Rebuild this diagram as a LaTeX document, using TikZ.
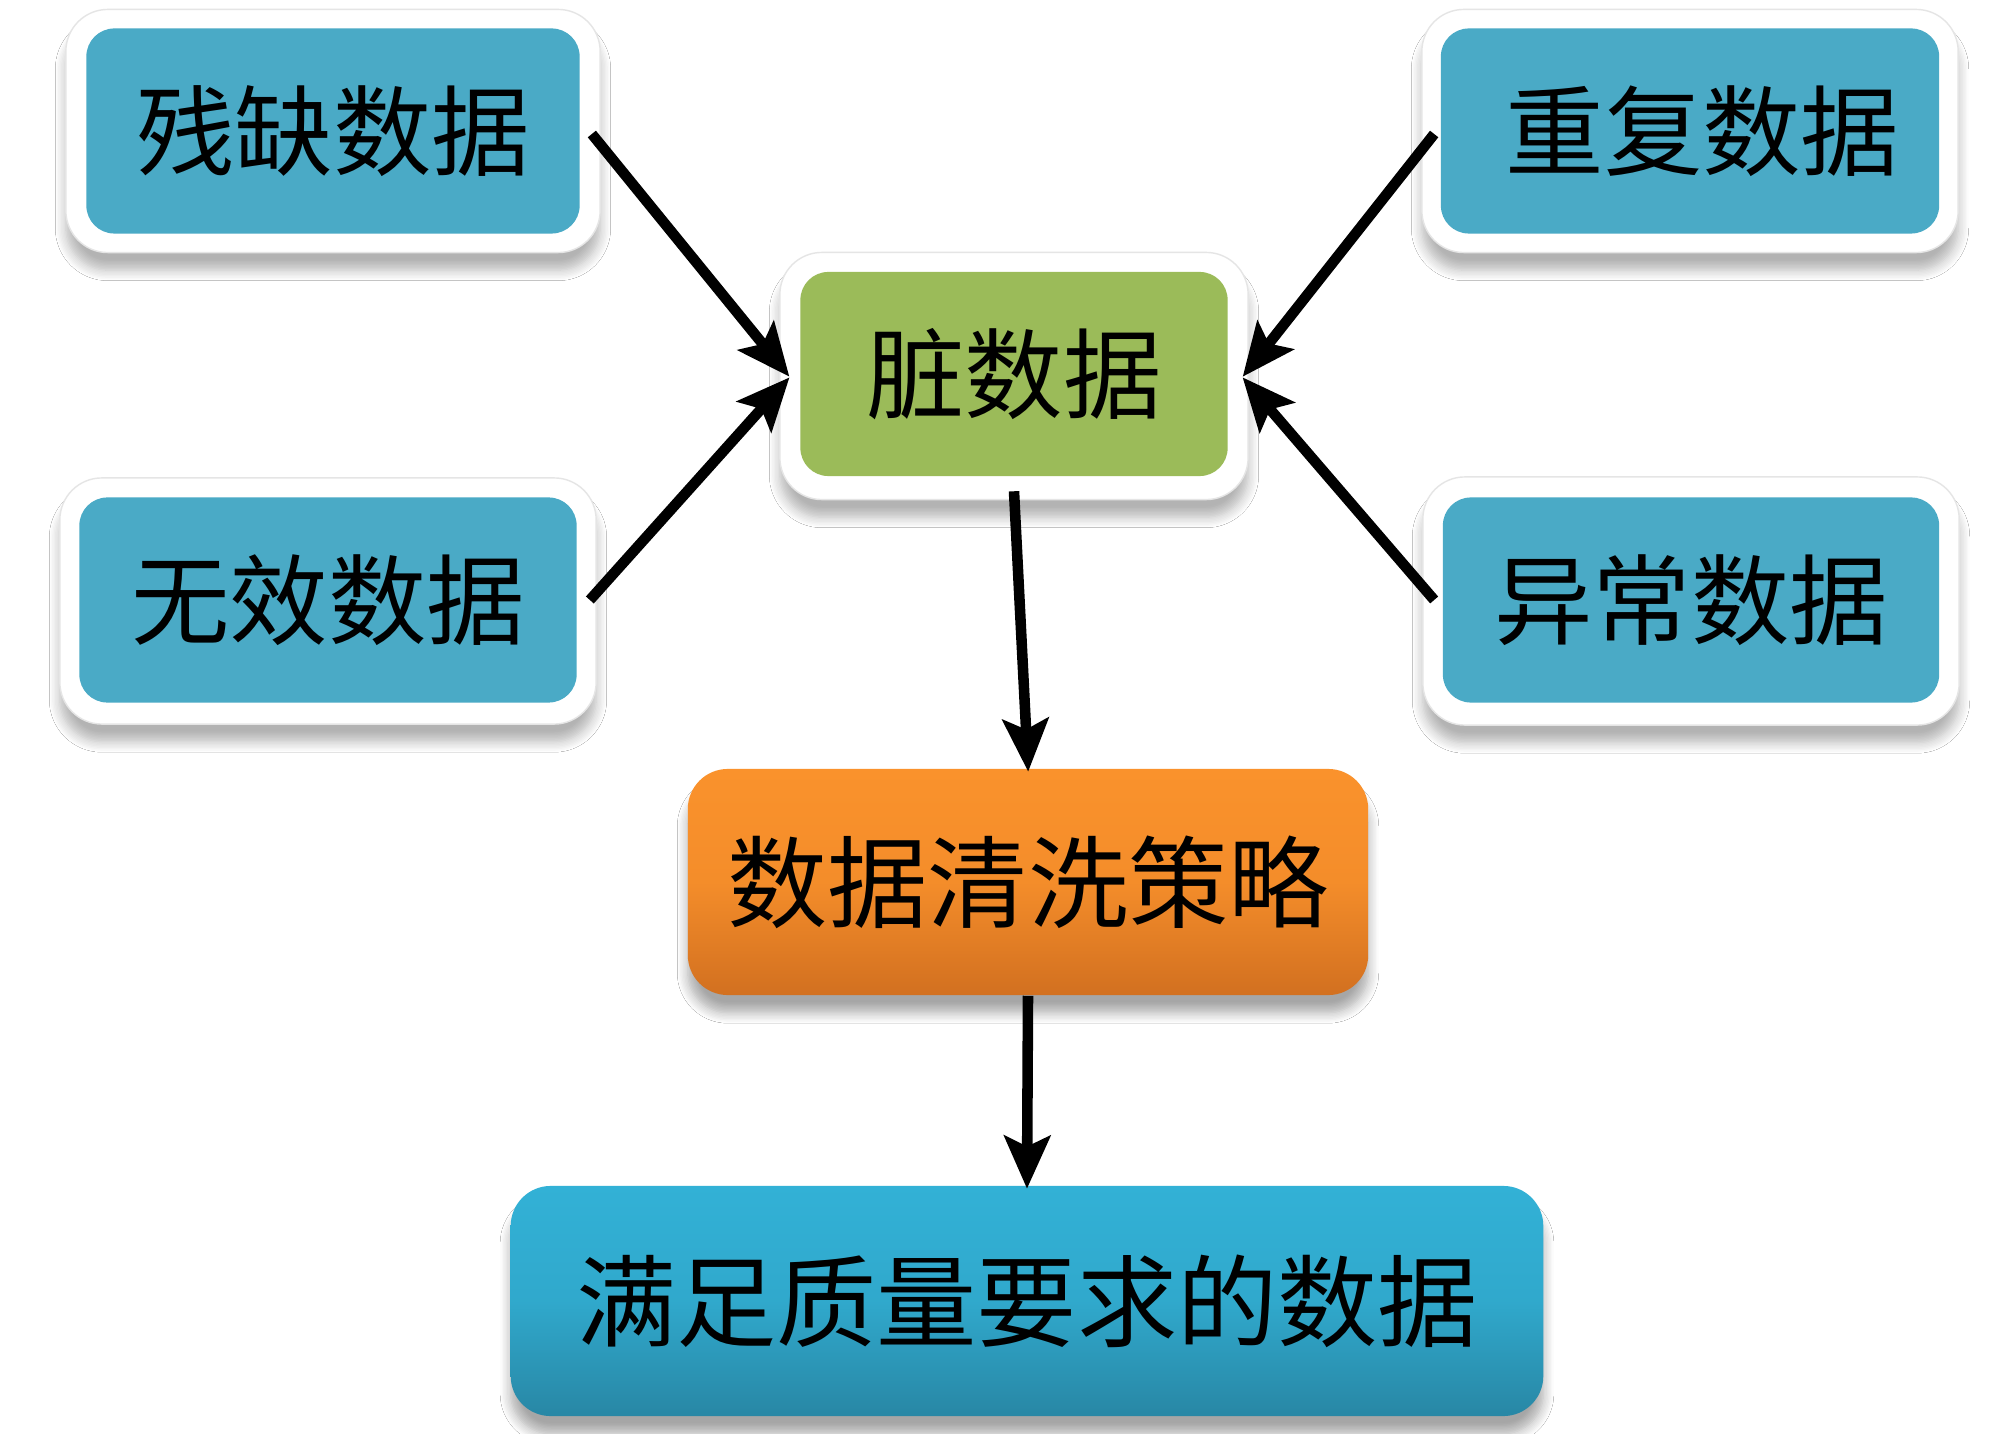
\documentclass[tikz,border=0pt]{standalone}
\usepackage{fontspec}
\newfontfamily\cjk{Noto Sans CJK SC}
\usetikzlibrary{arrows.meta,shadows.blur}
\definecolor{boxblue}{RGB}{74,170,198}
\definecolor{boxgreen}{RGB}{155,187,89}
\definecolor{orangetop}{RGB}{250,146,44}
\definecolor{orangebot}{RGB}{210,112,32}
\definecolor{bluetop}{RGB}{50,177,214}
\definecolor{bluebot}{RGB}{40,135,165}
\tikzset{
  frame/.style={draw=black!10, line width=0.4pt, fill=white, rounded corners=0.42cm,
    blur shadow={shadow xshift=0pt, shadow yshift=-5pt, shadow blur radius=3pt, shadow blur steps=8, shadow opacity=30}},
  inner/.style={draw=none, rounded corners=0.28cm, inner sep=0pt, font=\cjk\fontsize{28pt}{32pt}\selectfont, text=black},
  bigbox/.style={draw=none, rounded corners=0.4cm, inner sep=0pt, font=\cjk\fontsize{28.5pt}{32pt}\selectfont, text=black,
    blur shadow={shadow xshift=0pt, shadow yshift=-5pt, shadow blur radius=3pt, shadow blur steps=8, shadow opacity=35}},
  conn/.style={line width=3pt, -{Stealth[length=15pt, width=13pt, inset=3pt]}, shorten >=-1pt}
}
\begin{document}
\begin{tikzpicture}[x=0.01cm, y=-0.01cm]
\useasboundingbox (0,0) rectangle (2000,1434);
\fill[white] (0,0) rectangle (2000,1434);
% outer frames
\node[frame, minimum width=5.34cm, minimum height=2.43cm] (f1) at (333,131) {};
\node[frame, minimum width=5.36cm, minimum height=2.43cm] (f2) at (1690,131) {};
\node[frame, minimum width=4.68cm, minimum height=2.47cm] (fd) at (1014,376) {};
\node[frame, minimum width=5.36cm, minimum height=2.46cm] (f3) at (328,601) {};
\node[frame, minimum width=5.36cm, minimum height=2.48cm] (f4) at (1691,601) {};
% inner boxes
\node[inner, fill=boxblue, minimum width=4.93cm, minimum height=2.05cm] (b1) at (333,131) {残缺数据};
\node[inner, fill=boxblue, minimum width=4.98cm, minimum height=2.05cm] (b2) at (1690,131) {\hspace*{0.25cm}重复数据};
\node[inner, fill=boxgreen, minimum width=4.27cm, minimum height=2.04cm] (d) at (1014,374) {脏数据};
\node[inner, fill=boxblue, minimum width=4.97cm, minimum height=2.05cm] (b3) at (328,600) {无效数据};
\node[inner, fill=boxblue, minimum width=4.96cm, minimum height=2.05cm] (b4) at (1691,600) {异常数据};
% big boxes
\node[bigbox, top color=orangetop, bottom color=orangebot, middle color=orangetop!85!orangebot,
  minimum width=6.80cm, minimum height=2.26cm] (c) at (1028,882) {数据清洗策略};
\node[bigbox, top color=bluetop, bottom color=bluebot, middle color=bluetop!80!bluebot,
  minimum width=10.32cm, minimum height=2.30cm] (s) at (1027,1301) {满足质量要求的数据};
% connectors
\draw[conn] ([xshift=-0.09cm,yshift=-0.03cm]f1.east) -- ([xshift=0.08cm,yshift=0.02cm]fd.west);
\draw[conn] ([xshift=-0.07cm,yshift=0.01cm]f3.east) -- ([xshift=0.08cm,yshift=-0.04cm]fd.west);
\draw[conn] ([xshift=0.13cm,yshift=-0.03cm]f2.west) -- ([xshift=-0.04cm,yshift=0.02cm]fd.east);
\draw[conn] ([xshift=0.12cm,yshift=0.01cm]f4.west) -- ([xshift=-0.04cm,yshift=-0.04cm]fd.east);
\draw[conn] ([yshift=0.09cm]fd.south) -- (c.north);
\draw[conn] (c.south) -- (s.north);
\end{tikzpicture}
\end{document}
